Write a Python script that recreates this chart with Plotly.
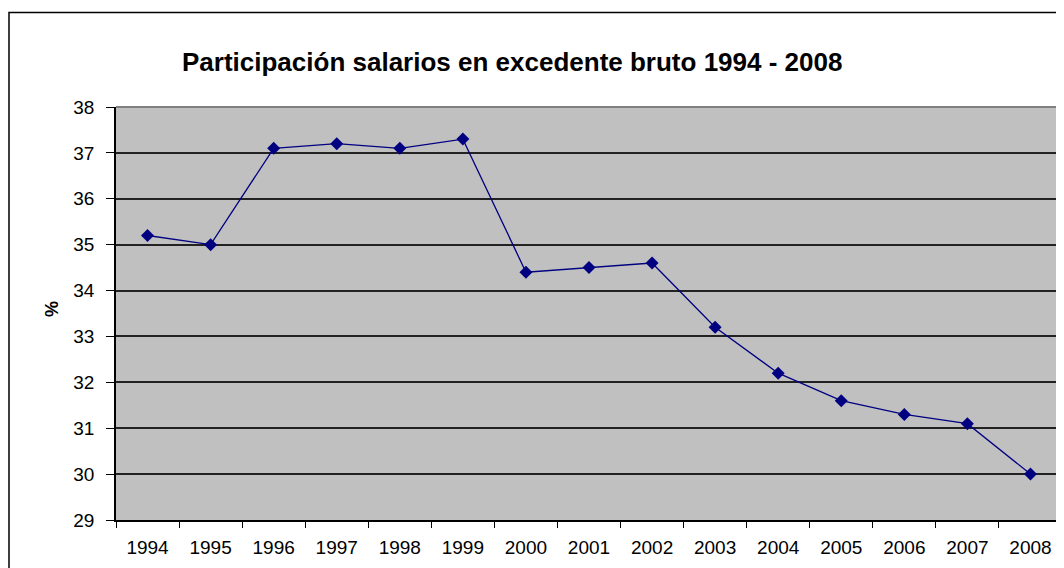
import plotly.graph_objects as go

years = ["1994", "1995", "1996", "1997", "1998", "1999", "2000", "2001",
         "2002", "2003", "2004", "2005", "2006", "2007", "2008"]
values = [35.2, 35.0, 37.1, 37.2, 37.1, 37.3, 34.4, 34.5, 34.6, 33.2,
          32.2, 31.6, 31.3, 31.1, 30.0]
y_ticks = list(range(29, 39))
title_text = "Participación salarios en excedente bruto 1994 - 2008"
y_title = "%"

# page body margin offsets the figure by 8px; design in shifted coordinates
OFF = 8
W, H = 1064 - OFF, 568 - OFF
L, R, T, B = 116 - OFF, 2, 107 - OFF, 48
pw, ph = W - L - R, H - T - B

def px_x(x):
    return (x - OFF - L) / pw

def px_y(y):
    return (H - B - (y - OFF)) / ph

font_family = "Liberation Sans, Arial, sans-serif"

fig = go.Figure()
fig.add_trace(go.Scatter(
    x=years, y=values, mode="lines+markers",
    line=dict(color="#000080", width=1.3),
    marker=dict(symbol="diamond", size=10, color="#000080"),
    showlegend=False,
))

fig.update_layout(
    width=W, height=H,
    margin=dict(l=L, r=R, t=T, b=B),
    paper_bgcolor="white",
    plot_bgcolor="#C0C0C0",
    font=dict(family=font_family, color="black"),
    xaxis=dict(
        type="category", tickson="boundaries", range=[-0.5, len(years) - 0.5],
        showgrid=False, showline=True, linecolor="black", linewidth=1.5,
        ticks="outside", ticklen=6, tickcolor="black", tickwidth=1.2,
        tickfont=dict(size=19, family=font_family), ticklabelstandoff=9,
    ),
    yaxis=dict(
        range=[29, 38], tickvals=y_ticks, showgrid=True, gridcolor="#222222",
        gridwidth=1.5, zeroline=False, showline=True, linecolor="black",
        linewidth=1.5, ticks="outside", ticklen=8, tickcolor="black",
        tickwidth=1.2, tickfont=dict(size=19, family=font_family),
        ticklabelstandoff=8,
    ),
    shapes=[
        dict(type="line", xref="paper", yref="paper", x0=0, x1=1, y0=1, y1=1,
             line=dict(color="#808080", width=2)),
        dict(type="line", xref="paper", yref="paper", x0=1, x1=1, y0=0, y1=1,
             line=dict(color="#808080", width=2)),
        dict(type="rect", xref="paper", yref="paper",
             x0=px_x(9), x1=1.2, y0=-0.3, y1=px_y(12.5),
             line=dict(color="black", width=1.5), layer="above"),
    ],
    annotations=[
        dict(text="<b>" + title_text + "</b>", xref="paper", yref="paper",
             x=px_x(512), y=px_y(62), showarrow=False, xanchor="center",
             yanchor="middle", font=dict(size=26, family=font_family)),
        dict(text="<b>" + y_title + "</b>", xref="paper", yref="paper",
             x=px_x(52), y=px_y(309), showarrow=False, textangle=-90,
             xanchor="center", yanchor="middle",
             font=dict(size=18, family=font_family)),
    ],
)

fig.write_html("out.html")
